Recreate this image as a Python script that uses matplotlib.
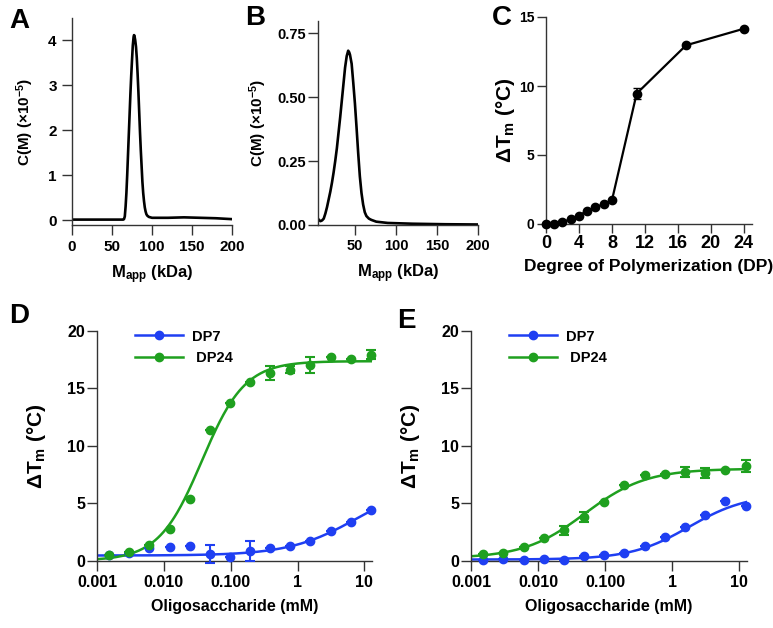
import numpy as np
import matplotlib
matplotlib.use('Agg')
import matplotlib.pyplot as plt

plt.rcParams['font.family'] = ['Liberation Sans', 'DejaVu Sans']
plt.rcParams['font.weight'] = 'bold'
plt.rcParams['axes.labelweight'] = 'bold'
plt.rcParams['mathtext.fontset'] = 'custom'
plt.rcParams['mathtext.rm'] = 'Liberation Sans:bold'
plt.rcParams['mathtext.it'] = 'Liberation Sans:bold'
plt.rcParams['mathtext.bf'] = 'Liberation Sans:bold'

# ---- panel A: c(M) distribution ----
mA = [0, 20, 40, 60, 64, 65, 66, 67, 68, 69, 70, 71, 72, 73, 74, 75, 76, 77, 77.5, 78,
      79, 80, 81, 82, 83, 84, 85, 86, 87, 88, 89, 90, 91, 92, 93, 94, 96, 100,
      120, 140, 160, 180, 200]
cA = [0.01, 0.01, 0.01, 0.01, 0.01, 0.02, 0.08, 0.3, 0.6, 1.0, 1.45, 1.9, 2.35, 2.8, 3.2,
      3.55, 3.88, 4.07, 4.11, 4.1, 4.0, 3.85, 3.6, 3.25, 2.85, 2.4, 1.95, 1.55, 1.2, 0.85,
      0.6, 0.42, 0.28, 0.19, 0.13, 0.1, 0.07, 0.05,
      0.05, 0.06, 0.05, 0.04, 0.02]

# ---- panel B ----
mB = [5, 6, 8, 10, 12, 14, 16, 18, 20, 22, 24, 26, 28, 30, 32, 34, 36, 38, 40, 41.8,
      43, 44, 46, 48, 50, 52, 54, 56, 58, 60, 62, 64, 67, 70, 76, 90, 120, 160, 200]
cB = [0.025, 0.02, 0.015, 0.018, 0.025, 0.045, 0.07, 0.1, 0.13, 0.165, 0.205, 0.25,
      0.3, 0.36, 0.42, 0.485, 0.55, 0.615, 0.66, 0.681, 0.675, 0.665, 0.63, 0.555,
      0.475, 0.38, 0.28, 0.19, 0.125, 0.08, 0.05, 0.035, 0.025, 0.02, 0.013, 0.008,
      0.005, 0.003, 0.002]

# ---- panel C: dTm vs DP ----
dp = [0, 1, 2, 3, 4, 5, 6, 7, 8, 11, 17, 24]
dtm_dp = [0, 0.03, 0.13, 0.36, 0.6, 0.97, 1.2, 1.45, 1.71, 9.45, 12.95, 14.15]
dtm_dp_err = [0, 0, 0, 0, 0, 0, 0, 0, 0, 0.4, 0, 0]

# ---- panels D/E: titrations ----
conc = [0.0015, 0.003, 0.0061, 0.0122, 0.0244, 0.0488, 0.0977, 0.195, 0.39, 0.78,
        1.5625, 3.125, 6.25, 12.5]

d_dp7 = [0.5, 0.7, 1.1, 1.15, 1.3, 0.6, 0.3, 0.85, 1.13, 1.3, 1.7, 2.6, 3.4, 4.45]
d_dp7_err = [0, 0, 0, 0, 0, 0.8, 0, 0.9, 0, 0, 0, 0, 0, 0]
d_dp24 = [0.5, 0.8, 1.35, 2.8, 5.4, 11.35, 13.7, 15.55, 16.3, 16.6, 17.0, 17.7, 17.5, 17.9]
d_dp24_err = [0, 0, 0, 0, 0, 0, 0, 0, 0.6, 0.3, 0.7, 0, 0, 0.4]

e_dp7 = [0.1, 0.15, 0.1, 0.15, 0.1, 0.45, 0.5, 0.7, 1.3, 2.1, 2.9, 4.0, 5.2, 4.8]
e_dp7_err = [0] * 14
e_dp24 = [0.55, 0.64, 1.2, 1.95, 2.65, 3.8, 5.1, 6.6, 7.45, 7.5, 7.7, 7.6, 7.9, 8.25]
e_dp24_err = [0, 0, 0, 0, 0.4, 0.45, 0, 0, 0, 0, 0.45, 0.45, 0, 0.5]

# Hill fits: bottom, top, EC50, slope
fit_d_dp7 = (0.45, 7.0, 8.0, 0.85)
fit_d_dp24 = (0.0, 17.35, 0.037, 1.35)
fit_e_dp7 = (0.1, 5.8, 1.8, 1.0)
fit_e_dp24 = (0.2, 8.0, 0.05, 0.95)

BLUE = '#1f3ff2'
GREEN = '#1fa01f'


def hill(x, p):
    b, t, ec, n = p
    return b + (t - b) * x ** n / (ec ** n + x ** n)


def style(ax):
    for s in ['top', 'right']:
        ax.spines[s].set_visible(False)
    for s in ['left', 'bottom']:
        ax.spines[s].set_linewidth(1.0)
        ax.spines[s].set_color('#333333')
    ax.tick_params(direction='out', length=7, width=1.0, color='#333333')


fig = plt.figure(figsize=(7.73, 6.28), dpi=100)
W, H = 773.0, 628.0


def px_axes(x0, x1, ytop, ybot):
    return fig.add_axes([x0 / W, 1 - ybot / H, (x1 - x0) / W, (ybot - ytop) / H])


# A
axA = px_axes(72, 232, 18, 225)
axA.plot(mA, cA, color='k', lw=1.9)
axA.set_xlim(0, 200)
axA.set_ylim(-0.11, 4.49)
axA.set_xticks([0, 50, 100, 150, 200])
axA.set_yticks([0, 1, 2, 3, 4])
style(axA)
axA.tick_params(labelsize=11)
axA.tick_params(axis='x', pad=3.5)
axA.tick_params(axis='y', pad=4)
axA.set_xlabel('M$_{\\mathrm{app}}$ (kDa)', fontsize=12, labelpad=7)
axA.set_ylabel('C(M) (×10$^{\\mathrm{-5}}$)', fontsize=11, labelpad=9)

# B
axB = px_axes(318, 478, 21, 225)
axB.plot(mB, cB, color='k', lw=1.9)
axB.set_xlim(5, 200)
axB.set_ylim(0, 0.797)
axB.set_xticks([50, 100, 150, 200])
axB.set_yticks([0, 0.25, 0.5, 0.75])
axB.set_yticklabels(['0.00', '0.25', '0.50', '0.75'])
style(axB)
axB.tick_params(labelsize=10.5)
axB.tick_params(axis='x', pad=3)
axB.tick_params(axis='y', pad=1.5)
axB.set_xlabel('M$_{\\mathrm{app}}$ (kDa)', fontsize=12, labelpad=7)
axB.set_ylabel('C(M) (×10$^{\\mathrm{-5}}$)', fontsize=11, labelpad=6)

# C
axC = px_axes(546, 752, 17, 224)
axC.errorbar(dp, dtm_dp, yerr=dtm_dp_err, color='k', lw=1.6, marker='o', ms=6,
             capsize=3, elinewidth=1.2, clip_on=False, zorder=3)
axC.set_xlim(0, 25)
axC.set_ylim(0, 15)
axC.set_xticks([0, 4, 8, 12, 16, 20, 24])
axC.set_yticks([0, 5, 10, 15])
style(axC)
axC.tick_params(length=6.5)
axC.tick_params(axis='x', labelsize=13, pad=1.5)
axC.tick_params(axis='y', labelsize=10, pad=2)
axC.set_xlabel('Degree of Polymerization (DP)', fontsize=12.5, labelpad=5)
axC.set_ylabel('ΔT$_{\\mathrm{m}}$ (°C)', fontsize=15, labelpad=1)


def titration(ax, s7, e7, f7, s24, e24, f24):
    xs = np.logspace(-3, np.log10(13.5), 300)
    ax.plot(xs, hill(xs, f7), color=BLUE, lw=1.8, zorder=2)
    ax.plot(xs, hill(xs, f24), color=GREEN, lw=1.8, zorder=2)
    ax.errorbar(conc, s7, yerr=e7, fmt='o', color=BLUE, ms=6, capsize=3.5,
                elinewidth=1.5, capthick=1.5, clip_on=False, zorder=3)
    ax.errorbar(conc, s24, yerr=e24, fmt='o', color=GREEN, ms=6, capsize=3.5,
                elinewidth=1.5, capthick=1.5, clip_on=False, zorder=3)
    ax.set_xscale('log')
    ax.set_xlim(0.001, 13)
    ax.set_ylim(0, 20)
    ax.set_xticks([0.001, 0.01, 0.1, 1, 10])
    ax.set_xticklabels(['0.001', '0.010', '0.100', '1', '10'])
    ax.xaxis.set_minor_locator(matplotlib.ticker.NullLocator())
    ax.set_yticks([0, 5, 10, 15, 20])
    style(ax)
    ax.tick_params(labelsize=11.5)
    ax.tick_params(axis='x', pad=3)
    ax.tick_params(axis='y', pad=1.5)
    ax.set_xlabel('Oligosaccharide (mM)', fontsize=11.5, labelpad=7)
    ax.set_ylabel('ΔT$_{\\mathrm{m}}$ (°C)', fontsize=15, labelpad=14)
    h7, = ax.plot([], [], color=BLUE, lw=1.8, marker='o', ms=6)
    h24, = ax.plot([], [], color=GREEN, lw=1.8, marker='o', ms=6)
    ax.legend([h7, h24], ['DP7', ' DP24'], loc='upper left', bbox_to_anchor=(0.137, 1.005),
              frameon=False, fontsize=10.5, handlelength=3.3, handletextpad=0.6,
              labelspacing=0.5, borderpad=0, borderaxespad=0, numpoints=1)


axD = px_axes(97, 372, 330.7, 560.7)
titration(axD, d_dp7, d_dp7_err, fit_d_dp7, d_dp24, d_dp24_err, fit_d_dp24)
axE = px_axes(471, 746.7, 330.7, 560.7)
titration(axE, e_dp7, e_dp7_err, fit_e_dp7, e_dp24, e_dp24_err, fit_e_dp24)

# panel letters (cap tops at roughly these pixel rows)
for lab, x, y in [('A', 9, 13), ('B', 245, 10), ('C', 492, 10), ('D', 9, 308), ('E', 397, 313)]:
    fig.text(x / W, 1 - (y - 5) / H, lab, fontsize=20, fontweight='bold', va='top', ha='left')

fig.savefig('out.png', dpi=100)
